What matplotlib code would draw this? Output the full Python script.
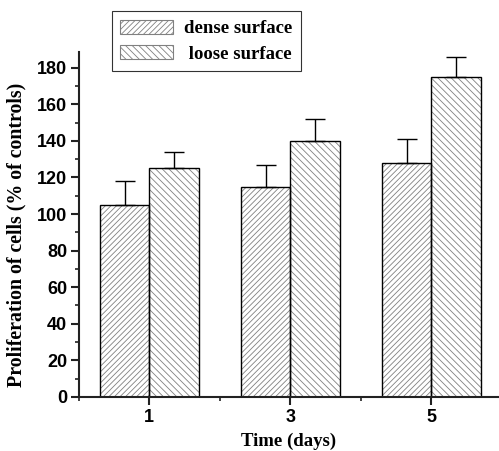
import numpy as np
import matplotlib
matplotlib.use('Agg')
import matplotlib.pyplot as plt
from matplotlib.patches import Patch
from matplotlib.ticker import MultipleLocator

# ---------------- data ----------------
days = ['1', '3', '5']
dense = [105, 115, 128]
dense_err = [13, 12, 13]
loose = [125, 140, 175]
loose_err = [9, 12, 11]

plt.rcParams['hatch.linewidth'] = 0.6

fig = plt.figure(figsize=(4.99, 4.51), dpi=100)
ax = fig.add_axes([0.158, 0.12, 0.842, 0.765])

x = np.arange(len(days))
w = 0.35

# hatch fill in grey, outline in black drawn on top
ax.bar(x - w/2, dense, w, color='white', edgecolor='#808080', hatch='//////', linewidth=0)
ax.bar(x + w/2, loose, w, color='white', edgecolor='#808080', hatch='\\\\\\\\\\', linewidth=0)
ax.bar(x - w/2, dense, w, fill=False, edgecolor='black', linewidth=1.0)
ax.bar(x + w/2, loose, w, fill=False, edgecolor='black', linewidth=1.0)

ax.errorbar(x - w/2, dense, yerr=[np.zeros(3), dense_err], fmt='none', ecolor='black',
            elinewidth=1.0, capsize=7, capthick=1.0)
ax.errorbar(x + w/2, loose, yerr=[np.zeros(3), loose_err], fmt='none', ecolor='black',
            elinewidth=1.0, capsize=7, capthick=1.0)

ax.set_xlim(-0.5, 2.48)
ax.set_ylim(0, 188.7)
ax.set_xticks(x)
ax.set_xticklabels(days)
ax.set_xticks([-0.5, 0.5, 1.5], minor=True)
ax.yaxis.set_major_locator(MultipleLocator(20))
ax.yaxis.set_minor_locator(MultipleLocator(10))

ax.spines['top'].set_visible(False)
ax.spines['right'].set_visible(False)
for s in ['left', 'bottom']:
    ax.spines[s].set_linewidth(1.5)
    ax.spines[s].set_color('#222222')

ax.tick_params(which='major', direction='out', length=6, width=1.5, color='#222222', pad=2.5)
ax.tick_params(which='minor', direction='out', length=3, width=1.2, color='#222222')
for lab in ax.get_xticklabels() + ax.get_yticklabels():
    lab.set_fontfamily('Liberation Sans')
    lab.set_fontweight('bold')
    lab.set_fontsize(13)

ax.set_xlabel('Time (days)', fontfamily='Liberation Serif', fontweight='bold', fontsize=13.5, labelpad=5)
ax.set_ylabel('Proliferation of cells (% of controls)', fontfamily='Liberation Serif',
              fontweight='bold', fontsize=14.3)
ax.yaxis.set_label_coords(-0.125, 0.47)

handles = [Patch(facecolor='white', edgecolor='#808080', hatch='//////', linewidth=0.8),
           Patch(facecolor='white', edgecolor='#808080', hatch='\\\\\\\\\\', linewidth=0.8)]
leg = fig.legend(handles, ['dense surface', ' loose surface'], loc='upper left',
                 bbox_to_anchor=(0.224, 0.975), frameon=True, fancybox=False,
                 edgecolor='black', handlelength=2.8, handleheight=0.8,
                 borderpad=0.45, labelspacing=0.4, handletextpad=0.6, borderaxespad=0.0,
                 prop={'family': 'Liberation Serif', 'weight': 'bold', 'size': 13.5})
leg.get_frame().set_linewidth(0.8)

plt.savefig('out.png', dpi=100)
